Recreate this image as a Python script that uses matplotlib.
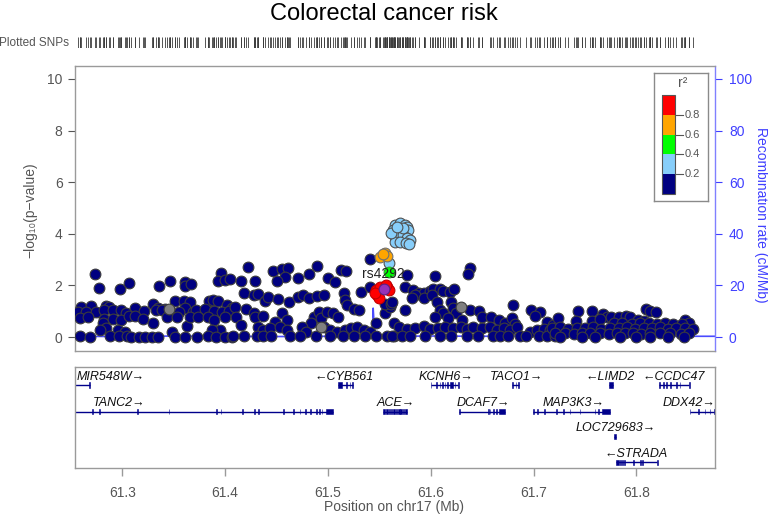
import numpy as np
import matplotlib
matplotlib.use("Agg")
import matplotlib.pyplot as plt
from matplotlib.patches import Rectangle

plt.rcParams['font.family'] = ['Liberation Sans', 'DejaVu Sans']

# ---------------- data ----------------
title = "Colorectal cancer risk"
chrom_label = "Position on chr17 (Mb)"
index_snp = "rs4292"

# r2 < 0.2 (navy)
navy_pos = [
    61.273, 61.277, 61.298, 61.307, 61.336, 61.346, 61.361, 61.361, 61.367, 61.396, 61.393, 61.400, 61.405,
    61.260, 61.270, 61.284, 61.287, 61.312, 61.330, 61.335, 61.342, 61.351, 61.360, 61.366, 61.361, 61.384, 61.388, 61.393, 61.402, 61.407,
    61.257, 61.265, 61.274, 61.282, 61.291, 61.299, 61.304, 61.321, 61.333, 61.339, 61.346, 61.355, 61.369, 61.372, 61.380, 61.389, 61.397, 61.404,
    61.259, 61.267, 61.282, 61.291, 61.299, 61.307, 61.312, 61.320, 61.330, 61.343, 61.353, 61.363, 61.366, 61.374, 61.383, 61.389, 61.400, 61.281, 61.284,
    61.278, 61.296, 61.303, 61.348, 61.395, 61.387,
    61.259, 61.269, 61.288, 61.297, 61.305, 61.308, 61.316, 61.322, 61.329, 61.335, 61.351, 61.361, 61.373, 61.383, 61.391, 61.400, 61.407,
    61.422, 61.447, 61.455, 61.461, 61.458, 61.450, 61.471, 61.482, 61.489, 61.500, 61.507, 61.513, 61.518, 61.415, 61.429,
    61.418, 61.428, 61.432, 61.439, 61.442, 61.451, 61.462, 61.471, 61.476, 61.482, 61.489, 61.496, 61.516, 61.517, 61.519, 61.525, 61.530, 61.532, 61.410, 61.420, 61.428, 61.411, 61.415,
    61.429, 61.437, 61.449, 61.455, 61.460, 61.486, 61.491, 61.493, 61.499, 61.505, 61.510, 61.484, 61.432, 61.437, 61.444, 61.453, 61.460, 61.475, 61.479, 61.496, 61.502, 61.509, 61.517, 61.522, 61.528, 61.535, 61.541, 61.547, 61.556, 61.560,
    61.408, 61.418, 61.431, 61.437, 61.445, 61.463, 61.473, 61.488, 61.502, 61.515, 61.525, 61.536, 61.547, 61.557, 61.564,
    61.541, 61.541, 61.577, 61.556, 61.561,
    61.604, 61.638, 61.636,
    61.575, 61.583, 61.589, 61.593, 61.599, 61.602, 61.609, 61.612, 61.619, 61.623, 61.585, 61.593, 61.601, 61.582, 61.606, 61.620, 61.562,
    61.575, 61.609, 61.612, 61.622, 61.625, 61.638, 61.647, 61.650, 61.680, 61.698, 61.706, 61.701, 61.604, 61.617, 61.630, 61.659, 61.666, 61.672, 61.679, 61.682, 61.713, 61.719,
    61.564, 61.569, 61.577, 61.585, 61.593, 61.599, 61.607, 61.614, 61.622, 61.629, 61.635, 61.641, 61.650, 61.658, 61.664, 61.671, 61.677, 61.684, 61.697, 61.703, 61.710, 61.716,
    61.562, 61.572, 61.580, 61.594, 61.609, 61.620, 61.635, 61.646, 61.661, 61.667, 61.675, 61.687, 61.693, 61.705, 61.713, 61.721,
    61.743, 61.757, 61.768, 61.771, 61.809, 61.813, 61.819, 61.724, 61.741, 61.757, 61.775, 61.783, 61.790, 61.794, 61.765, 61.802, 61.807, 61.847, 61.851,
    61.778, 61.786, 61.796, 61.804, 61.812, 61.820, 61.828, 61.836, 61.844,
    61.718, 61.726, 61.734, 61.742, 61.750, 61.758, 61.766, 61.774, 61.783, 61.791, 61.799, 61.807, 61.815, 61.823, 61.831, 61.839, 61.847, 61.855,
    61.721, 61.731, 61.739, 61.747, 61.755, 61.765, 61.773, 61.781, 61.789, 61.797, 61.805, 61.813, 61.823, 61.833, 61.843, 61.851,
    61.726, 61.747, 61.760, 61.784, 61.800, 61.813, 61.831, 61.846,
]
navy_logp = [
    2.44, 1.89, 1.86, 2.08, 1.98, 2.17, 2.14, 1.98, 2.05, 2.47, 2.18, 2.21, 2.24,
    1.17, 1.20, 1.20, 1.17, 1.14, 1.30, 1.11, 1.08, 1.40, 1.40, 1.37, 1.11, 1.40, 1.43, 1.40, 1.24, 1.14,
    0.98, 0.98, 0.98, 1.05, 1.05, 1.05, 0.95, 1.02, 1.05, 1.05, 0.98, 0.98, 0.98, 1.05, 1.08, 1.02, 0.98, 1.02,
    0.72, 0.76, 0.69, 0.69, 0.66, 0.82, 0.82, 0.69, 0.53, 0.76, 0.79, 0.44, 0.76, 0.76, 0.76, 0.66, 0.76, 0.53, 0.37,
    0.27, 0.27, 0.21, 0.21, 0.27, 0.27,
    0.04, 0.02, 0.04, 0.06, 0.04, 0.02, 0.02, 0.02, 0.02, 0.02, 0.02, 0.02, 0.02, 0.04, 0.02, 0.02, 0.02,
    2.70, 2.54, 2.63, 2.66, 2.34, 2.18, 2.30, 2.43, 2.76, 2.30, 2.12, 2.58, 2.54, 2.18, 2.18,
    1.72, 1.63, 1.67, 1.41, 1.56, 1.49, 1.36, 1.56, 1.63, 1.52, 1.60, 1.63, 1.72, 1.43, 1.24, 1.08, 1.04, 1.76, 1.17, 1.08, 0.95, 0.76, 0.47,
    0.76, 0.82, 0.59, 0.92, 0.66, 0.79, 0.98, 0.72, 0.98, 0.92, 0.76, 0.53, 0.40, 0.27, 0.34, 0.40, 0.27, 0.40, 0.21, 0.40, 0.27, 0.21, 0.27, 0.34, 0.40, 0.27, 0.21, 0.53, 0.92, 1.17,
    0.03, 0.03, 0.03, 0.03, 0.03, 0.03, 0.03, 0.03, 0.03, 0.03, 0.03, 0.03, 0.03, 0.03, 0.03,
    3.01, 1.95, 2.40, 1.30, 1.28,
    2.36, 2.69, 2.43,
    1.95, 1.82, 1.72, 1.69, 1.79, 1.86, 1.88, 1.79, 1.76, 1.88, 1.62, 1.50, 1.62, 1.50, 1.37, 1.37, 1.37,
    1.04, 1.04, 0.92, 1.11, 0.92, 1.04, 1.01, 0.76, 1.24, 1.04, 0.98, 0.81, 0.76, 0.72, 0.66, 0.76, 0.66, 0.53, 0.72, 0.50, 0.59, 0.47,
    0.55, 0.40, 0.30, 0.34, 0.43, 0.30, 0.34, 0.40, 0.34, 0.40, 0.30, 0.40, 0.34, 0.40, 0.27, 0.34, 0.27, 0.40, 0.21, 0.27, 0.30, 0.27,
    0.03, 0.03, 0.03, 0.03, 0.03, 0.03, 0.03, 0.03, 0.03, 0.03, 0.03, 0.03, 0.03, 0.03, 0.03, 0.03,
    1.00, 1.01, 0.89, 0.76, 1.07, 1.01, 0.98, 0.72, 0.63, 0.63, 0.79, 0.76, 0.82, 0.76, 0.69, 0.66, 0.63, 0.66, 0.53,
    0.53, 0.55, 0.50, 0.53, 0.55, 0.50, 0.53, 0.52, 0.50,
    0.34, 0.38, 0.32, 0.36, 0.34, 0.38, 0.32, 0.36, 0.34, 0.38, 0.32, 0.36, 0.34, 0.38, 0.32, 0.36, 0.34, 0.30,
    0.14, 0.16, 0.12, 0.15, 0.14, 0.16, 0.12, 0.15, 0.14, 0.16, 0.12, 0.15, 0.14, 0.16, 0.12, 0.15,
    0.02, 0.02, 0.02, 0.02, 0.02, 0.02, 0.02, 0.02,
]
# r2 missing (gray)
gray_pos = [61.629, 61.493, 61.345]
gray_logp = [1.17, 0.38, 1.10]
# 0.2 <= r2 < 0.4 (light blue)
lblue_pos = [61.5653, 61.5702, 61.5750, 61.5767, 61.5630, 61.5669, 61.5718, 61.5783, 61.5647, 61.5686,
             61.5734, 61.5773, 61.5799, 61.5653, 61.5702, 61.5760, 61.5793, 61.5611, 61.5734, 61.5669, 61.5598]
lblue_logp = [4.34, 4.40, 4.34, 4.27, 4.15, 4.08, 4.15, 4.15, 3.95, 3.89,
              3.95, 3.82, 3.76, 3.69, 3.69, 3.63, 3.60, 4.02, 4.21, 4.27, 2.86]
# 0.4 <= r2 < 0.6 (green)
green_pos = [61.5598]
green_logp = [2.53]
# 0.6 <= r2 < 0.8 (orange)
orange_pos = [61.5507, 61.5556, 61.5579, 61.5533]
orange_logp = [3.09, 3.27, 3.14, 3.22]
# r2 >= 0.8 (red)
red_pos = [61.5468, 61.5507, 61.5579, 61.5598, 61.5481, 61.5501, 61.5458, 61.5566]
red_logp = [1.82, 1.95, 1.92, 1.82, 1.63, 1.50, 1.69, 2.00]
# index SNP
index_pos = [61.5546]
index_logp = [1.88]

# recombination rate
recomb_pos = [61.250, 61.300, 61.350, 61.400, 61.450, 61.500, 61.540, 61.5435, 61.5440, 61.5448, 61.5455,
              61.560, 61.600, 61.650, 61.700, 61.750, 61.800, 61.850, 61.880]
recomb_rate = [0.3, 0.2, 0.4, 0.3, 0.2, 0.3, 0.4, 0.5, 11.2, 6.0, 0.5,
               0.3, 0.4, 0.3, 0.5, 0.4, 0.3, 0.3, 0.3]

# legend categories
r2_colors = ['#000080', '#87CEFA', '#00FF00', '#FFA500', '#FF0000']
r2_breaks = ['0.2', '0.4', '0.6', '0.8']

# genes
gene_names = ['MIR548W', 'CYB561', 'KCNH6', 'TACO1', 'LIMD2', 'CCDC47',
              'TANC2', 'ACE', 'DCAF7', 'MAP3K3', 'DDX42', 'LOC729683', 'STRADA']
gene_start = [61.2400, 61.5095, 61.6003, 61.6787, 61.7737, 61.8224,
              61.0870, 61.5539, 61.6278, 61.6998, 61.8522, 61.7783, 61.7802]
gene_end = [61.2686, 61.5241, 61.6268, 61.6862, 61.7776, 61.8516,
            61.5053, 61.5766, 61.6722, 61.7744, 61.9000, 61.7805, 61.8204]
gene_strand = ['+', '-', '+', '+', '-', '-', '+', '+', '+', '+', '+', '+', '-']
gene_row = [0, 0, 0, 0, 0, 0, 1, 1, 1, 1, 1, 2, 3]
gene_label_x = [61.289, 61.5162, 61.6149, 61.6835, 61.7749, 61.8367,
                61.2973, 61.5658, 61.6514, 61.7389, 61.8513, 61.7803, 61.8000]
gene_exons = [
    [(61.2680, 61.2688)],
    [(61.5095, 61.5134), (61.5180, 61.5186), (61.5212, 61.5218), (61.5238, 61.5244)],
    [(61.6000, 61.6007), (61.6055, 61.6061), (61.6087, 61.6093), (61.6113, 61.6119), (61.6136, 61.6142),
     (61.6158, 61.6164), (61.6185, 61.6213), (61.6233, 61.6239), (61.6265, 61.6271)],
    [(61.6787, 61.6796), (61.6826, 61.6832), (61.6850, 61.6862)],
    [(61.7737, 61.7776)],
    [(61.8221, 61.8227), (61.8260, 61.8266), (61.8292, 61.8298), (61.8325, 61.8340), (61.8389, 61.8395),
     (61.8422, 61.8428), (61.8513, 61.8519)],
    [(61.2709, 61.2715), (61.2774, 61.2780), (61.3147, 61.3153), (61.3451, 61.3457), (61.3915, 61.3921),
     (61.3957, 61.3963), (61.4168, 61.4174), (61.4281, 61.4287), (61.4320, 61.4326), (61.4563, 61.4569),
     (61.4661, 61.4667), (61.4726, 61.4732), (61.4781, 61.4787), (61.4829, 61.4835), (61.4888, 61.4894),
     (61.4914, 61.4920), (61.4940, 61.4946), (61.4981, 61.5053)],
    [(61.5539, 61.5558), (61.5566, 61.5582), (61.5590, 61.5605), (61.5613, 61.5628), (61.5636, 61.5651),
     (61.5659, 61.5674), (61.5682, 61.5697), (61.5705, 61.5720), (61.5728, 61.5743), (61.5751, 61.5766)],
    [(61.6275, 61.6281), (61.6557, 61.6563), (61.6573, 61.6579), (61.6606, 61.6612), (61.6638, 61.6644),
     (61.6667, 61.6722)],
    [(61.6995, 61.7001), (61.7034, 61.7040), (61.7102, 61.7108), (61.7222, 61.7228), (61.7287, 61.7293),
     (61.7352, 61.7358), (61.7449, 61.7455), (61.7595, 61.7601), (61.7627, 61.7633), (61.7663, 61.7744)],
    [(61.8519, 61.8525), (61.8600, 61.8606), (61.8665, 61.8671), (61.8714, 61.8720), (61.8756, 61.8762)],
    [(61.7783, 61.7805)],
    [(61.7802, 61.7830), (61.7840, 61.7850), (61.7860, 61.7870), (61.7880, 61.7890), (61.7968, 61.7974),
     (61.8039, 61.8045), (61.8059, 61.8065), (61.8201, 61.8207)],
]

x_ticks = [61.3, 61.4, 61.5, 61.6, 61.7, 61.8]
y_ticks = [0, 2, 4, 6, 8, 10]
recomb_ticks = [0, 20, 40, 60, 80, 100]

# ---------------- style ----------------
XLIM = (61.254, 61.8765)
YLIM = (-0.54, 10.5)
TXT = '#555555'
FRAME = '#9A9A9A'
RCOL = '#3F3FFF'
GENE_COL = '#00008B'
EDGE = '#3C3C3C'

fig = plt.figure(figsize=(7.68, 5.21), dpi=100)

fig.text(0.5, 1 - 14 / 521, title, ha='center', va='center', fontsize=17, color='black')

# rug
rug = fig.add_axes([75 / 768, 1 - 48 / 521, 640 / 768, 11 / 521])
all_pos = navy_pos + gray_pos + lblue_pos + green_pos + orange_pos + red_pos + index_pos
rug.vlines(all_pos, 0, 1, color='#3A3A3A', lw=0.6)
rug.set_xlim(*XLIM)
rug.set_ylim(0, 1)
rug.axis('off')
fig.text(69 / 768, 1 - 42.5 / 521, "Plotted SNPs", ha='right', va='center', fontsize=8.5, color=TXT)

# main panel
ax = fig.add_axes([75 / 768, 1 - 351 / 521, 640 / 768, 285 / 521])
ax2 = ax.twinx()
ax.set_zorder(ax2.get_zorder() + 1)
ax.patch.set_visible(False)

ax2.plot(recomb_pos, recomb_rate, color='#2B2BFF', lw=1.2, alpha=0.85)
ax2.set_ylim(YLIM[0] * 10, YLIM[1] * 10)
ax2.set_yticks(recomb_ticks)
ax2.tick_params(axis='y', colors=RCOL, labelcolor=RCOL, length=5, width=0.8, pad=5, labelsize=10)
for s in ['left', 'top', 'bottom']:
    ax2.spines[s].set_visible(False)
ax2.spines['right'].set_color('#8080FF')
ax2.spines['right'].set_linewidth(1.0)

sz = 60
ax.scatter(navy_pos, navy_logp, s=sz, c=r2_colors[0], edgecolors=EDGE, linewidths=0.8, zorder=3)
ax.scatter(gray_pos, gray_logp, s=sz, c='#808080', edgecolors=EDGE, linewidths=0.8, zorder=3)
ax.scatter(lblue_pos, lblue_logp, s=sz, c=r2_colors[1], edgecolors='#505050', linewidths=0.8, zorder=4)
ax.scatter(orange_pos, orange_logp, s=sz, c=r2_colors[3], edgecolors='#707070', linewidths=0.8, zorder=4)
ax.scatter(red_pos, red_logp, s=sz, c=r2_colors[4], edgecolors='#C00000', linewidths=0.8, zorder=4)
ax.scatter(green_pos, green_logp, s=sz, c=r2_colors[2], edgecolors='#30A030', linewidths=0.8, zorder=5)
ax.text(index_pos[0] - 0.001, index_logp[0] + 0.56, index_snp, ha='center', va='center',
        fontsize=10, color='#222222', zorder=6)
ax.scatter(index_pos, index_logp, s=sz, c='#9632B8', edgecolors='#5A2080', linewidths=0.8, zorder=7)

ax.set_xlim(*XLIM)
ax.set_ylim(*YLIM)
ax.set_yticks(y_ticks)
ax.set_xticks([])
ax.tick_params(axis='y', colors=TXT, labelcolor=TXT, length=5, width=0.8, pad=4, labelsize=10)
for s in ax.spines.values():
    s.set_color(FRAME)
    s.set_linewidth(1.0)
ax.spines['right'].set_visible(False)

fig.text(30 / 768, 1 - 210 / 521, "\u2212log\u2081\u2080(p\u2212value)", rotation=90,
         ha='center', va='center', fontsize=10, color=TXT)
fig.text(761 / 768, 1 - 215 / 521, "Recombination rate (cM/Mb)", rotation=-90,
         ha='center', va='center', fontsize=10, color=RCOL)

# legend
lg = fig.add_axes([654 / 768, 1 - 201 / 521, 54 / 768, 128 / 521])
lg.set_xlim(0, 54)
lg.set_ylim(128, 0)
lg.set_xticks([])
lg.set_yticks([])
for s in lg.spines.values():
    s.set_color('#8A8A8A')
    s.set_linewidth(1.0)
seg = 99 / len(r2_colors)
for i, col in enumerate(r2_colors):
    top = 22 + seg * (len(r2_colors) - 1 - i)
    lg.add_patch(Rectangle((8, top), 13, seg, facecolor=col, edgecolor='none'))
lg.add_patch(Rectangle((8, 22), 13, 99, facecolor='none', edgecolor='#555555', lw=0.8))
for j, lab in enumerate(r2_breaks):
    yb = 22 + seg * (len(r2_colors) - 1 - j)
    lg.plot([21, 29], [yb, yb], color='#555555', lw=0.8)
    lg.text(31, yb, lab, ha='left', va='center', fontsize=8, color=TXT)
lg.text(29, 10, "r\u00b2", ha='center', va='center', fontsize=10, color=TXT)

# gene panel
gx = fig.add_axes([75 / 768, 1 - 468 / 521, 640 / 768, 101 / 521])
gx.set_xlim(*XLIM)
gx.set_ylim(101, 0)
row_line = [18.0, 44.7, 69.7, 95.3]
eh = 2.6
for i, name in enumerate(gene_names):
    yl = row_line[gene_row[i]]
    gx.plot([gene_start[i], gene_end[i]], [yl, yl], color=GENE_COL, lw=1.0, solid_capstyle='butt')
    for (a, b) in gene_exons[i]:
        gx.add_patch(Rectangle((a, yl - eh), b - a, 2 * eh, facecolor=GENE_COL, edgecolor=GENE_COL, lw=0.4))
    lab = name + "\u2192" if gene_strand[i] == '+' else "\u2190" + name
    gx.text(gene_label_x[i], yl - 8.5, lab, ha='center', va='center', fontsize=9,
            style='italic', color='#111111', clip_on=True)
gx.set_yticks([])
gx.set_xticks(x_ticks)
gx.set_xticklabels([f"{t:.1f}" for t in x_ticks])
gx.tick_params(axis='x', colors=FRAME, labelcolor=TXT, length=6, width=1.0, pad=7, labelsize=10)
for s in gx.spines.values():
    s.set_color(FRAME)
    s.set_linewidth(1.0)
fig.text(394.5 / 768, 1 - 507 / 521, chrom_label, ha='center', va='center', fontsize=10, color=TXT)

fig.savefig("out.png", dpi=100)
